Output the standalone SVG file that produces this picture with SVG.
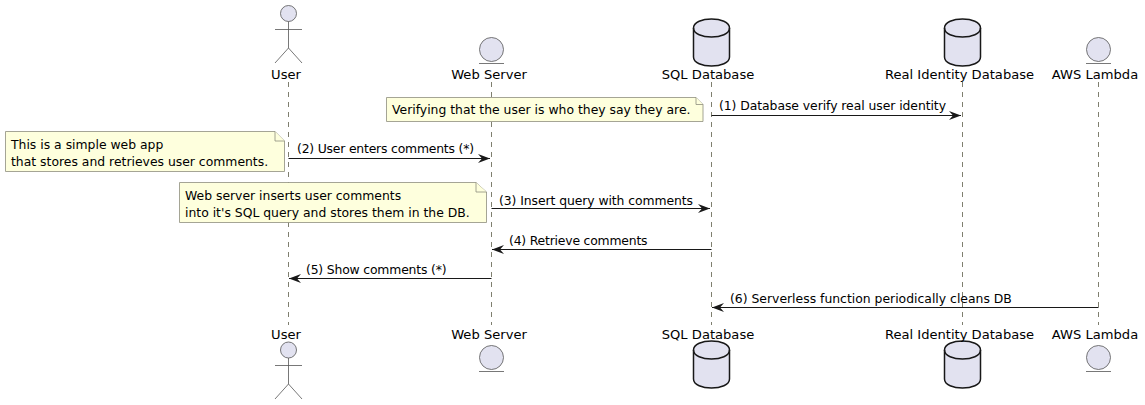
<svg xmlns="http://www.w3.org/2000/svg" width="1145" height="405" viewBox="0 0 1145 405">
<style>
text{font-family:"DejaVu Sans",sans-serif;font-size:12.4px;fill:#000}
.lbl{font-size:13.1px;text-anchor:middle}
.life{stroke:#7f7f6f;stroke-width:1;stroke-dasharray:5,5;fill:none}
.act{fill:#e2e2f0;stroke:#555;stroke-width:.8}
.ln{stroke:#555;stroke-width:.8;fill:none}
.db{fill:#e2e2f0;stroke:#181818;stroke-width:1.5}
.note{fill:#feffdd;stroke:#8e8e7e;stroke-width:.8}
.msg{stroke:#181818;stroke-width:1;fill:none}
</style>
<defs>
<marker id="ah" markerUnits="userSpaceOnUse" markerWidth="13" markerHeight="12" refX="12" refY="4.500" orient="auto"><path d="M0 0L12 4.500L0 9L4 4.500Z" fill="#181818"/></marker>
<g id="cyl"><path class="db" d="M-18 -33C-18 -45 18 -45 18 -33V-4C18 8 -18 8 -18 -4Z"/><path class="db" style="fill:none" d="M-18 -33C-18 -21 18 -21 18 -33"/></g>
</defs>
<g id="connectors">
<path class="life" d="M288.500 82V325M491.500 82V325M711.500 82V325M962.500 82V325M1098.500 82V325"/>
<path class="msg" marker-end="url(#ah)" d="M711.500 115.500H961"/>
<path class="msg" marker-end="url(#ah)" d="M288.500 158.500H490"/>
<path class="msg" marker-end="url(#ah)" d="M491.500 208.500H710"/>
<path class="msg" marker-end="url(#ah)" d="M711.500 249.500H492"/>
<path class="msg" marker-end="url(#ah)" d="M491.500 278.500H289"/>
<path class="msg" marker-end="url(#ah)" d="M1098.500 307.500H712"/>
<text x="719" y="110" textLength="227">(1) Database verify real user identity</text>
<text x="297" y="153" textLength="177">(2) User enters comments (*)</text>
<text x="499" y="204.500" textLength="194">(3) Insert query with comments</text>
<text x="509" y="245" textLength="138.500">(4) Retrieve comments</text>
<text x="306" y="274" textLength="140.500">(5) Show comments (*)</text>
<text x="730" y="303">(6) Serverless function periodically cleans DB</text>
</g>
<g id="note-verify"><path class="note" d="M386.500 97.500H696L703 104.500V121.500H386.500Z"/><path class="note" d="M696 97.500V104.500H703"/><text x="392" y="114">Verifying that the user is who they say they are.</text></g>
<g id="note-app"><path class="note" d="M5.500 131.500H275L284.500 141V171.500H5.500Z"/><path class="note" d="M275 131.500V141H284.500"/><text x="11" y="149">This is a simple web app</text><text x="11" y="165.500">that stores and retrieves user comments.</text></g>
<g id="note-web"><path class="note" d="M179.500 182.500H476L486.500 192V222.500H179.500Z"/><path class="note" d="M476 182.500V192H486.500"/><text x="185" y="200">Web server inserts user comments</text><text x="185" y="216.500">into it's SQL query and stores them in the DB.</text></g>
<g id="user-top"><circle class="act" cx="288.500" cy="13.500" r="8"/><path class="ln" d="M288.500 21.500V48M275 29.500H302M275 63L288.500 48L302 63"/><text class="lbl" x="286" y="79">User</text></g>
<g id="web-top"><circle class="act" cx="491.500" cy="49.500" r="12"/><path class="ln" d="M479 63.500H504"/><text class="lbl" x="489" y="79">Web Server</text></g>
<g id="sql-top"><use href="#cyl" x="711.500" y="61"/><text class="lbl" x="708" y="79">SQL Database</text></g>
<g id="real-top"><use href="#cyl" x="962.500" y="61"/><text class="lbl" x="959.500" y="79">Real Identity Database</text></g>
<g id="aws-top"><circle class="act" cx="1098.500" cy="49.500" r="12"/><path class="ln" d="M1086 63.500H1111"/><text class="lbl" x="1095" y="79">AWS Lambda</text></g>
<g id="user-bottom"><circle class="act" cx="288.500" cy="350" r="8"/><path class="ln" d="M288.500 358V384M275 365.500H302M275 399L288.500 384L302 399"/><text class="lbl" x="286" y="339">User</text></g>
<g id="web-bottom"><circle class="act" cx="491.500" cy="357.500" r="12"/><path class="ln" d="M479 371.500H504"/><text class="lbl" x="489" y="339">Web Server</text></g>
<g id="sql-bottom"><use href="#cyl" x="711.500" y="383"/><text class="lbl" x="708" y="339">SQL Database</text></g>
<g id="real-bottom"><use href="#cyl" x="962.500" y="383"/><text class="lbl" x="959.500" y="339">Real Identity Database</text></g>
<g id="aws-bottom"><circle class="act" cx="1098.500" cy="357.500" r="12"/><path class="ln" d="M1086 371.500H1111"/><text class="lbl" x="1095" y="339">AWS Lambda</text></g>
</svg>
